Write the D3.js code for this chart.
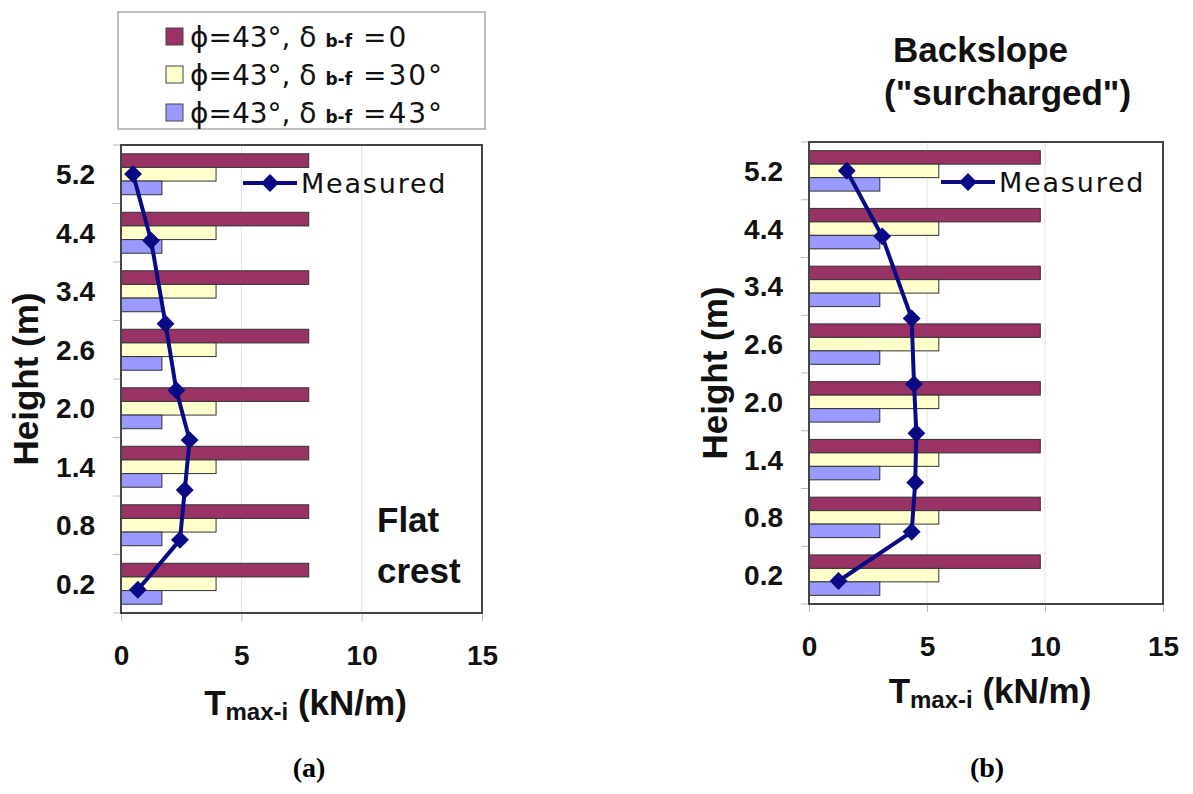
<!doctype html>
<html lang='en'>
  <head>
    <meta charset="utf-8">
    <script src="https://d3js.org/d3.v7.min.js"></script>
    <title>Tmax-i vs height</title>
  <style>
  body {
    margin: 0;
    background-color: white;
  }
  .tick-label {
    font-family: "Liberation Sans", Arial, sans-serif;
    font-weight: bold;
    font-size: 28px;
    fill: #111;
  }
  .title {
    font-family: "Liberation Sans", Arial, sans-serif;
    font-weight: bold;
    font-size: 35px;
    fill: #111;
  }
  .legend-text {
    font-family: "DejaVu Sans", sans-serif;
    font-size: 27px;
    fill: #111;
  }
  </style>
  </head>
  <body>
    <div id='chart'></div>
    <script>
    // heights of reinforcement layers (categories, top to bottom)
    const heights = ['5.2', '4.4', '3.4', '2.6', '2.0', '1.4', '0.8', '0.2'];
    const heightValues = [5.2, 4.4, 3.4, 2.6, 2.0, 1.4, 0.8, 0.2];
    const xTicks = [0, 5, 10, 15];

    const seriesKeys = ['d0', 'd30', 'd43'];
    const seriesColors = ['#993366', '#ffffcc', '#9999ff'];
    const legendDelta = ['0', '30°', '43°'];

    // (a) flat crest
    const flatDelta0  = [7.8, 7.8, 7.8, 7.8, 7.8, 7.8, 7.8, 7.8];
    const flatDelta30 = [3.95, 3.95, 3.95, 3.95, 3.95, 3.95, 3.95, 3.95];
    const flatDelta43 = [1.7, 1.7, 1.7, 1.7, 1.7, 1.7, 1.7, 1.7];
    const flatMeasured = [0.5, 1.25, 1.85, 2.3, 2.85, 2.65, 2.45, 0.7];

    // (b) backslope
    const slopeDelta0  = [9.8, 9.8, 9.8, 9.8, 9.8, 9.8, 9.8, 9.8];
    const slopeDelta30 = [5.5, 5.5, 5.5, 5.5, 5.5, 5.5, 5.5, 5.5];
    const slopeDelta43 = [3.0, 3.0, 3.0, 3.0, 3.0, 3.0, 3.0, 3.0];
    const slopeMeasured = [1.6, 3.1, 4.35, 4.45, 4.55, 4.5, 4.35, 1.25];

    const svg = d3.select('#chart')
                  .append('svg')
                  .attr('width', 1193)
                  .attr('height', 794);

    function drawPanel(p) {
      const g = svg.append('g');
      const rows = heights.map((h, i) => ({
        h: h, d0: p.d0[i], d30: p.d30[i], d43: p.d43[i], m: p.measured[i], hv: heightValues[i]
      }));

      const xScale = d3.scaleLinear().domain([0, 15]).range([p.left, p.right]);
      const yBand = d3.scaleBand().domain(heights).range([p.top, p.bottom])
                      .paddingInner(0.3).paddingOuter(0.15);
      const ySub = d3.scaleBand().domain(seriesKeys).range([0, yBand.bandwidth()]);
      const yLin = d3.scaleLinear().domain([-0.08, 5.55]).range([p.bottom, p.top]);

      // grid lines
      g.selectAll('.grid').data(xTicks.slice(1, -1)).enter().append('line')
        .attr('x1', d => xScale(d)).attr('x2', d => xScale(d))
        .attr('y1', p.top).attr('y2', p.bottom)
        .attr('stroke', '#e2e2e2').attr('stroke-width', 1);

      // x axis
      const xAxis = d3.axisBottom(xScale).tickValues(xTicks).tickSize(8).tickPadding(24);
      const xg = g.append('g')
        .attr('transform', 'translate(0,' + p.bottom + ')')
        .call(xAxis);
      xg.select('.domain').remove();
      xg.selectAll('line').attr('stroke', '#bbb');
      xg.selectAll('text').attr('class', 'tick-label').attr('fill', '#111').style('font-size', '28px');

      // y axis: labels at centers, tick marks on band edges
      const yAxis = d3.axisLeft(yBand).tickSize(0).tickPadding(p.left - p.labelX);
      const yg = g.append('g')
        .attr('transform', 'translate(' + p.left + ',0)')
        .call(yAxis);
      yg.select('.domain').remove();
      yg.selectAll('text').attr('class', 'tick-label').attr('fill', '#111')
        .style('font-size', '28px').attr('dy', '0.36em');
      const edges = heights.map(h => yBand(h) - yBand.step() * yBand.paddingOuter());
      edges.push(p.bottom);
      g.selectAll('.ytick').data(edges).enter().append('line')
        .attr('x1', p.left - 8).attr('x2', p.left)
        .attr('y1', d => d).attr('y2', d => d)
        .attr('stroke', '#bbb');

      // bars
      const groups = g.selectAll('.grp').data(rows).enter().append('g')
        .attr('transform', d => 'translate(0,' + yBand(d.h) + ')');
      seriesKeys.forEach((k, si) => {
        groups.append('rect')
          .attr('x', xScale(0))
          .attr('y', ySub(k))
          .attr('width', d => xScale(d[k]) - xScale(0))
          .attr('height', ySub.bandwidth())
          .attr('fill', seriesColors[si])
          .attr('stroke', '#333')
          .attr('stroke-width', 1);
      });

      // plot border
      g.append('rect')
        .attr('x', p.left).attr('y', p.top)
        .attr('width', p.right - p.left).attr('height', p.bottom - p.top)
        .attr('fill', 'none').attr('stroke', '#444').attr('stroke-width', 2);

      // measured line
      const line = d3.line().x(d => xScale(d.m)).y(d => yLin(d.hv));
      g.append('path').datum(rows)
        .attr('d', line)
        .attr('fill', 'none')
        .attr('stroke', '#0a0a85')
        .attr('stroke-width', 4);
      const diamond = d3.symbol().type(d3.symbolSquare).size(160);
      g.selectAll('.pt').data(rows).enter().append('path')
        .attr('d', diamond)
        .attr('transform', d => 'translate(' + xScale(d.m) + ',' + yLin(d.hv) + ') rotate(45)')
        .attr('fill', '#0a0a85');

      // measured legend
      g.append('line')
        .attr('x1', p.mLegX).attr('x2', p.mLegX + 54)
        .attr('y1', p.mLegY).attr('y2', p.mLegY)
        .attr('stroke', '#0a0a85').attr('stroke-width', 4);
      g.append('path').attr('d', diamond)
        .attr('transform', 'translate(' + (p.mLegX + 27) + ',' + p.mLegY + ') rotate(45)')
        .attr('fill', '#0a0a85');
      g.append('text')
        .attr('class', 'legend-text')
        .attr('x', p.mLegX + 58).attr('y', p.mLegY + 10)
        .style('letter-spacing', '1.8px')
        .text('Measured');

      // axis titles
      const xt = g.append('text').attr('class', 'title')
        .attr('x', (p.left + p.right) / 2 + 4).attr('y', p.xTitleY)
        .attr('text-anchor', 'middle');
      xt.append('tspan').text('T');
      xt.append('tspan').attr('dy', 5).style('font-size', '24px').text('max-i');
      xt.append('tspan').attr('dy', -5).text(' (kN/m)');

      g.append('text').attr('class', 'title')
        .attr('transform', 'translate(' + p.yTitleX + ',' + (p.top + p.bottom) / 2 + ') rotate(-90)')
        .attr('text-anchor', 'middle')
        .text('Height (m)');

      // panel caption
      g.append('text')
        .attr('x', p.capX).attr('y', 777)
        .attr('text-anchor', 'middle')
        .style('font-family', '"Liberation Serif", "Times New Roman", serif')
        .style('font-weight', 'bold')
        .style('font-size', '28px')
        .text(p.caption);

      return g;
    }

    const ga = drawPanel({
      left: 121, right: 482, top: 145, bottom: 613, labelX: 95,
      d0: flatDelta0, d30: flatDelta30, d43: flatDelta43, measured: flatMeasured,
      mLegX: 243, mLegY: 183, xTitleY: 715, yTitleX: 38, capX: 309, caption: '(a)'
    });
    const gb = drawPanel({
      left: 809, right: 1163, top: 142, bottom: 604, labelX: 783,
      d0: slopeDelta0, d30: slopeDelta30, d43: slopeDelta43, measured: slopeMeasured,
      mLegX: 941, mLegY: 182, xTitleY: 703, yTitleX: 727, capX: 987, caption: '(b)'
    });

    // panel notes
    ga.append('text').attr('class', 'title').attr('x', 377).attr('y', 532).text('Flat');
    ga.append('text').attr('class', 'title').attr('x', 377).attr('y', 583).text('crest');
    gb.append('text').attr('class', 'title').attr('x', 893).attr('y', 62).text('Backslope');
    gb.append('text').attr('class', 'title').attr('x', 884).attr('y', 105).text('("surcharged")');

    // series legend
    const legend = svg.append('g');
    legend.append('rect')
      .attr('x', 118).attr('y', 12).attr('width', 367).attr('height', 117)
      .attr('fill', 'white').attr('stroke', '#aaa').attr('stroke-width', 1.5);
    legendDelta.forEach((d, i) => {
      const by = 47 + i * 38;
      legend.append('rect')
        .attr('x', 166).attr('y', by - 19).attr('width', 17).attr('height', 17)
        .attr('fill', seriesColors[i]).attr('stroke', '#444').attr('stroke-width', 1);
      const t = legend.append('text').attr('class', 'legend-text')
        .attr('x', 190).attr('y', by).style('font-size', '28px');
      t.append('tspan').text('\u03D5=43°, \u03B4 ');
      t.append('tspan').style('font-size', '17px').style('font-weight', 'bold').text('b-f');
      t.append('tspan').style('letter-spacing', '2px').text(' =' + d);
    });
    </script>
  </body>
</html>
